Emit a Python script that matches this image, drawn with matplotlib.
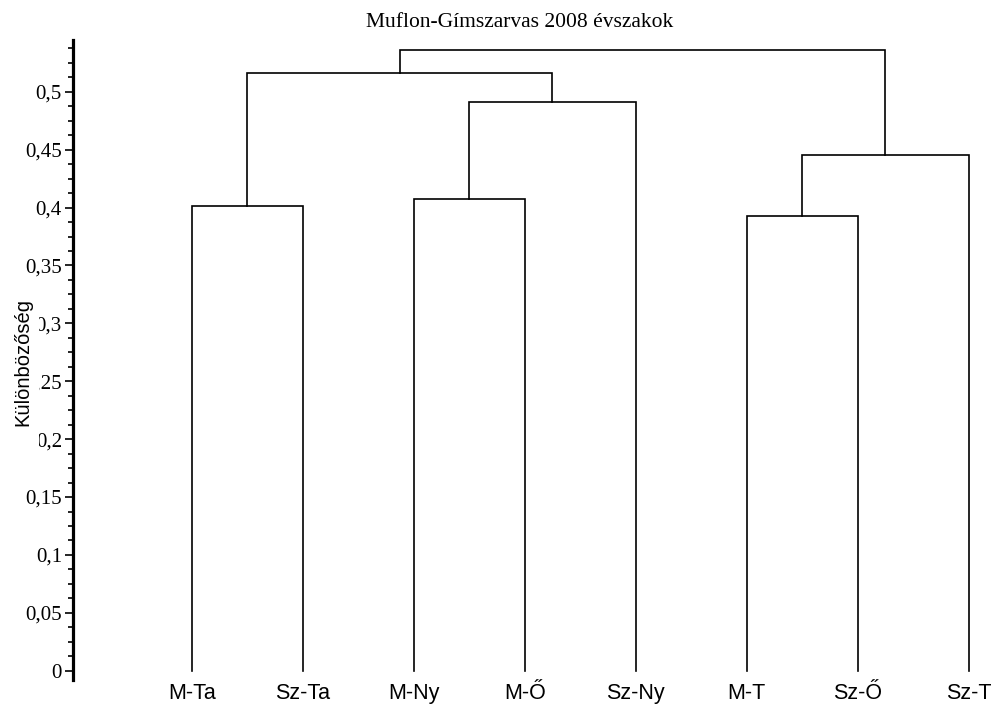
import matplotlib.pyplot as plt
from matplotlib.patches import Rectangle
from matplotlib.ticker import AutoMinorLocator

# Leaves in drawing order and the merge table (left node, right node, height).
# Nodes 0-7 are leaves, node 8+k is the cluster formed by merge k.
leaves = ['M-Ta', 'Sz-Ta', 'M-Ny', 'M-Ő', 'Sz-Ny', 'M-T', 'Sz-Ő', 'Sz-T']
merge_left = [5, 0, 2, 8, 10, 9, 13]
merge_right = [6, 1, 3, 7, 4, 12, 11]
merge_height = [0.393, 0.401, 0.407, 0.445, 0.491, 0.516, 0.536]

y_ticks = [0, 0.05, 0.1, 0.15, 0.2, 0.25, 0.3, 0.35, 0.4, 0.45, 0.5]
y_tick_labels = ['0', '0,05', '0,1', '0,15', '0,2', '0,25', '0,3', '0,35',
                 '0,4', '0,45', '0,5']

title = 'Muflon-Gímszarvas 2008 évszakok'
y_label = 'Különbözőség'

serif = 'Liberation Serif'
sans = 'Liberation Sans'

fig = plt.figure(figsize=(9.92, 7.04), dpi=100)
ax = fig.add_axes([73 / 992, 24 / 704, 1 - 73 / 992, 640 / 704])

# node positions: leaves sit on integer slots, clusters between their children
node_x = list(range(len(leaves)))
node_y = [0.0] * len(leaves)
for l, r, h in zip(merge_left, merge_right, merge_height):
    xl, xr = node_x[l], node_x[r]
    ax.plot([xl, xl, xr, xr], [node_y[l], h, h, node_y[r]],
            color='black', lw=1.2, solid_joinstyle='miter')
    node_x.append((xl + xr) / 2)
    node_y.append(h)

ax.set_xlim(-1.069, 7.21)
ax.set_ylim(-0.008, 0.5447)

for side in ['top', 'right', 'bottom']:
    ax.spines[side].set_visible(False)
ax.spines['left'].set_linewidth(2.3)

ax.set_yticks(y_ticks)
ax.set_yticklabels(y_tick_labels, fontfamily=serif, fontsize=15)
ax.yaxis.set_minor_locator(AutoMinorLocator(4))
ax.tick_params(axis='y', which='major', length=6, width=1.2, pad=2)
ax.tick_params(axis='y', which='minor', length=3.8, width=1.2)

ax.set_xticks(range(len(leaves)))
ax.set_xticklabels(leaves, fontfamily=sans, fontsize=15.5)
ax.tick_params(axis='x', length=0, pad=2)

fig.text(520 / 992, 1 - 27 / 704, title, ha='center', va='baseline',
         fontfamily=serif, fontsize=15.5)

# the axis title sits on a white panel that hides part of the tick labels
fig.patches.append(Rectangle((5 / 992, 1 - 448 / 704), 34 / 992, 153 / 704,
                             transform=fig.transFigure, facecolor='white',
                             edgecolor='none', zorder=2))
fig.text(23 / 992, 1 - 362 / 704, y_label, rotation=90, ha='center',
         va='center', fontfamily=sans, fontsize=14.5, zorder=3)

fig.savefig('out.png', dpi=100)
